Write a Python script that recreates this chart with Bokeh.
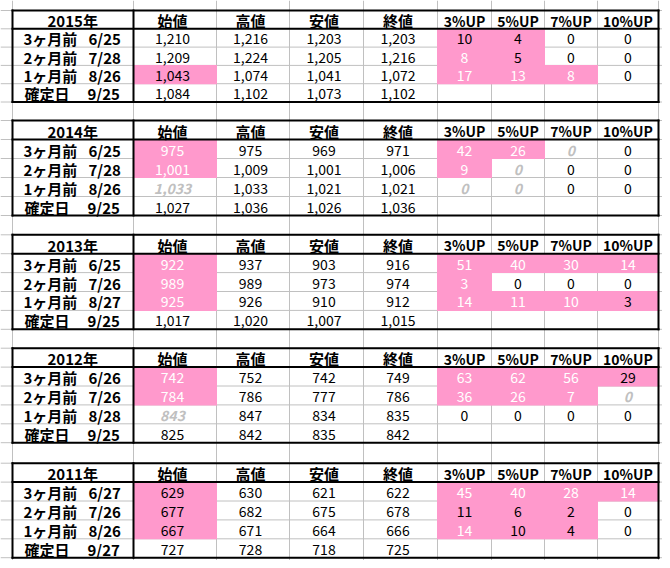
from bokeh.plotting import figure
from bokeh.models import Range1d, ColumnDataSource
from bokeh.core.properties import value
from bokeh.embed import file_html
from bokeh.resources import INLINE

# ---------------- data ----------------
years = ["2015年", "2014年", "2013年", "2012年", "2011年"]
row_labels = ["3ヶ月前", "2ヶ月前", "1ヶ月前", "確定日"]
price_headers = ["始値", "高値", "安値", "終値"]
up_headers = ["3%UP", "5%UP", "7%UP", "10%UP"]

dates_2015 = ["6/25", "7/28", "8/26", "9/25"]
open_2015 = [1210, 1209, 1043, 1084]
high_2015 = [1216, 1224, 1074, 1102]
low_2015 = [1203, 1205, 1041, 1073]
close_2015 = [1203, 1216, 1072, 1102]
up_2015 = [[10, 4, 0, 0], [8, 5, 0, 0], [17, 13, 8, 0]]

dates_2014 = ["6/25", "7/28", "8/26", "9/25"]
open_2014 = [975, 1001, 1033, 1027]
high_2014 = [975, 1009, 1033, 1036]
low_2014 = [969, 1001, 1021, 1026]
close_2014 = [971, 1006, 1021, 1036]
up_2014 = [[42, 26, 0, 0], [9, 0, 0, 0], [0, 0, 0, 0]]

dates_2013 = ["6/25", "7/26", "8/27", "9/25"]
open_2013 = [922, 989, 925, 1017]
high_2013 = [937, 989, 926, 1020]
low_2013 = [903, 973, 910, 1007]
close_2013 = [916, 974, 912, 1015]
up_2013 = [[51, 40, 30, 14], [3, 0, 0, 0], [14, 11, 10, 3]]

dates_2012 = ["6/26", "7/26", "8/28", "9/25"]
open_2012 = [742, 784, 843, 825]
high_2012 = [752, 786, 847, 842]
low_2012 = [742, 777, 834, 835]
close_2012 = [749, 786, 835, 842]
up_2012 = [[63, 62, 56, 29], [36, 26, 7, 0], [0, 0, 0, 0]]

dates_2011 = ["6/27", "7/26", "8/26", "9/27"]
open_2011 = [629, 677, 667, 727]
high_2011 = [630, 682, 671, 728]
low_2011 = [621, 675, 664, 718]
close_2011 = [622, 678, 666, 725]
up_2011 = [[45, 40, 28, 14], [11, 6, 2, 0], [14, 10, 4, 0]]

# cell style codes: n normal, k pink/black, w pink/white, g grey italic
open_sty_2015 = ["n", "n", "k", "n"]
up_sty_2015 = [["k", "k", "n", "n"], ["w", "k", "n", "n"], ["w", "w", "w", "n"]]
open_sty_2014 = ["w", "w", "g", "n"]
up_sty_2014 = [["w", "w", "g", "n"], ["w", "g", "n", "n"], ["g", "g", "n", "n"]]
open_sty_2013 = ["w", "w", "w", "n"]
up_sty_2013 = [["w", "w", "w", "w"], ["w", "n", "n", "n"], ["w", "w", "w", "k"]]
open_sty_2012 = ["w", "w", "g", "n"]
up_sty_2012 = [["w", "w", "w", "k"], ["w", "w", "w", "g"], ["n", "n", "n", "n"]]
open_sty_2011 = ["k", "k", "k", "n"]
up_sty_2011 = [["w", "w", "w", "w"], ["k", "k", "k", "n"], ["w", "k", "k", "n"]]

blocks = [
    (dates_2015, [open_2015, high_2015, low_2015, close_2015], up_2015, open_sty_2015, up_sty_2015),
    (dates_2014, [open_2014, high_2014, low_2014, close_2014], up_2014, open_sty_2014, up_sty_2014),
    (dates_2013, [open_2013, high_2013, low_2013, close_2013], up_2013, open_sty_2013, up_sty_2013),
    (dates_2012, [open_2012, high_2012, low_2012, close_2012], up_2012, open_sty_2012, up_sty_2012),
    (dates_2011, [open_2011, high_2011, low_2011, close_2011], up_2011, open_sty_2011, up_sty_2011),
]

# ---------------- layout ----------------
col_edges = [12, 133, 216, 289, 363, 437, 491, 544, 597, 658]
block_tops = [10, 120, 234.3, 347.7, 462.7]
row_h = [18.3, 19, 18.9, 18.9, 18.9]
PINK = "#ff99cc"
GRID = "#c0c0c0"
JP = "Noto Sans CJK JP"

W, H = 662, 560
p = figure(width=W, height=H, x_range=Range1d(0, W), y_range=Range1d(H, 0),
           output_backend="svg", toolbar_location=None, min_border=0,
           x_axis_location=None, y_axis_location=None)
p.grid.visible = False
p.outline_line_color = None
p.background_fill_color = "white"

# grid lines
gx0, gx1, gy0, gy1 = [], [], [], []
for x in col_edges:
    gx0.append(x); gx1.append(x); gy0.append(0); gy1.append(H)
row_edges = []
for b, top in enumerate(block_tops):
    edges = [top + i * row_h[b] for i in range(6)]
    row_edges.append(edges)
    for y in edges:
        gx0.append(0); gx1.append(W); gy0.append(y); gy1.append(y)
p.segment(x0=gx0, y0=gy0, x1=gx1, y1=gy1, line_color=GRID, line_width=1)

col_c = [(col_edges[i] + col_edges[i + 1]) / 2 for i in range(len(col_edges) - 1)]
price_shift = -2.5
year_left = col_edges[0] + 35
label_left = col_edges[0] + 11
date_left = col_edges[0] + 76

pl, pr, pt, pb = [], [], [], []
kinds = ["n", "k", "w", "g", "hjp", "hlat", "lab", "year"]
txt = {k: dict(x=[], y=[], t=[]) for k in kinds}


def add(kind, x, y, t):
    txt[kind]["x"].append(x)
    txt[kind]["y"].append(y)
    txt[kind]["t"].append(t)


for b, (dates, prices, ups, osty, usty) in enumerate(blocks):
    e = row_edges[b]
    rc = [(e[i] + e[i + 1]) / 2 + 1 for i in range(5)]
    add("year", year_left, rc[0], years[b])
    for j, h in enumerate(price_headers):
        add("hjp", col_c[1 + j] + price_shift, rc[0], h)
    for j, h in enumerate(up_headers):
        add("hlat", col_c[5 + j], rc[0], h)
    for r in range(4):
        add("lab", label_left + (1 if r == 3 else 0), rc[r + 1], row_labels[r])
        add("lab", date_left - (1 if r == 3 else 0), rc[r + 1], dates[r])
        for j in range(4):
            s = osty[r] if j == 0 else "n"
            add(s, col_c[1 + j] + price_shift, rc[r + 1], f"{prices[j][r]:,}")
            if s in ("k", "w"):
                pl.append(col_edges[1 + j] - 0.5); pr.append(col_edges[2 + j] + 0.5)
                pt.append(e[r + 1] - 0.5); pb.append(e[r + 2] + 0.5)
    for r in range(3):
        for j in range(4):
            s = usty[r][j]
            add(s, col_c[5 + j], rc[r + 1], f"{ups[r][j]}")
            if s in ("k", "w"):
                pl.append(col_edges[5 + j] - 0.5); pr.append(col_edges[6 + j] + 0.5)
                pt.append(e[r + 1] - 0.5); pb.append(e[r + 2] + 0.5)

p.quad(left=pl, right=pr, top=pt, bottom=pb, fill_color=PINK, line_color=None)

# black borders
bx0, bx1, by0, by1 = [], [], [], []
for b in range(5):
    e = row_edges[b]
    L, R = col_edges[0], col_edges[-1]
    for (x0, y0, x1, y1) in [(L, e[0], R, e[0]), (L, e[5], R, e[5]), (L, e[1], R, e[1]),
                             (L, e[0], L, e[5]), (R, e[0], R, e[5]),
                             (col_edges[1], e[0], col_edges[1], e[5])]:
        bx0.append(x0); by0.append(y0); bx1.append(x1); by1.append(y1)
p.segment(x0=bx0, y0=by0, x1=bx1, y1=by1, line_color="black", line_width=2, line_cap="square")

styles = {
    "n": dict(color="black", size="14px", style="normal", align="center"),
    "k": dict(color="black", size="14px", style="normal", align="center"),
    "w": dict(color="white", size="14px", style="normal", align="center"),
    "g": dict(color="#c0c0c0", size="14px", style="bold italic", align="center"),
    "hjp": dict(color="black", size="15px", style="bold", align="center"),
    "hlat": dict(color="black", size="14px", style="bold", align="center"),
    "lab": dict(color="black", size="15px", style="bold", align="left"),
    "year": dict(color="black", size="15px", style="bold", align="left"),
}
for k, d in txt.items():
    st = styles[k]
    src = ColumnDataSource(dict(x=d["x"], y=d["y"], t=d["t"]))
    p.text(x="x", y="y", text="t", source=src, text_align=st["align"], text_baseline="middle",
           text_color=st["color"], text_font=value(JP), text_font_size=st["size"],
           text_font_style=st["style"])

open("out.html", "w").write(file_html(p, INLINE))
